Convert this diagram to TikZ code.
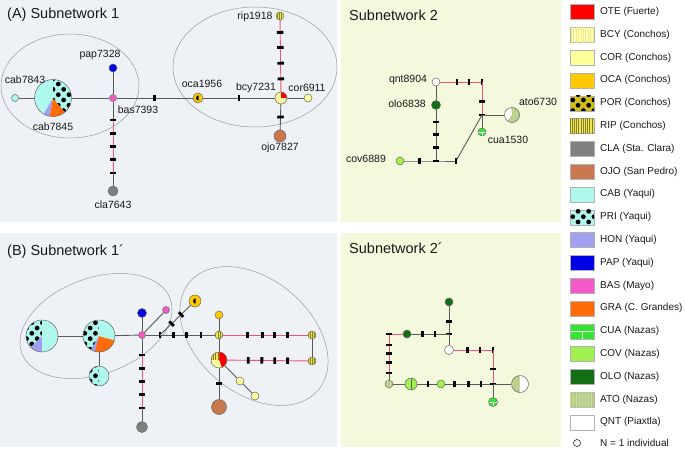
\documentclass[tikz,border=0pt]{standalone}
\usepackage{fontspec}
\setmainfont{Liberation Sans}
\usetikzlibrary{patterns,patterns.meta}
\pgfdeclarelayer{back}
\pgfdeclarelayer{links}
\pgfsetlayers{back,links,main}

\definecolor{otec}{HTML}{FF0000}
\definecolor{bcyc}{HTML}{FFFCC8}
\definecolor{corc}{HTML}{FFFF99}
\definecolor{ocac}{HTML}{FFC800}
\definecolor{porc}{HTML}{D2BE14}
\definecolor{ripc}{HTML}{F0E650}
\definecolor{clac}{HTML}{808080}
\definecolor{ojoc}{HTML}{C8784F}
\definecolor{cabc}{HTML}{AFF8EE}
\definecolor{honc}{HTML}{A0A0F0}
\definecolor{papc}{HTML}{0000E6}
\definecolor{basc}{HTML}{F55AC8}
\definecolor{grac}{HTML}{FF6A0A}
\definecolor{cuac}{HTML}{32E632}
\definecolor{covc}{HTML}{A0F050}
\definecolor{oloc}{HTML}{146E14}
\definecolor{atoc}{HTML}{B4CD82}
\definecolor{panelA}{HTML}{EEF2F7}
\definecolor{panelB}{HTML}{F4F8DC}
\definecolor{mutline}{HTML}{EE5577}

% one slice of a haplotype pie, used inside a path picture
\newcommand{\piepart}[3]{\path[#1] (path picture bounding box.center) -- ++(#2:30pt) arc[start angle=#2,end angle=#3,radius=30pt] -- cycle;}
\newcommand{\pordot}{\fill[black] (path picture bounding box.center) ++(0.6,2.6) arc[start angle=90,end angle=270,radius=2.6] -- cycle;}

\begin{document}
\begin{tikzpicture}[x=1pt, y=1pt,
		hap/.style={circle, draw=black!60, line width=.5pt, inner sep=0pt, minimum size=#1},
		hap/.default=8pt,
		swatch/.style={rectangle, draw=black!30, line width=.4pt, minimum width=24pt, minimum height=15pt, inner sep=0pt},
		tick/.style={fill=black, inner sep=0pt, minimum width=2.8pt, minimum height=6.5pt, sloped},
		link/.style={draw=black!65, line width=.9pt},
		mutlink/.style={draw=mutline, line width=.9pt},
		ring/.style={draw=black!40, line width=.5pt},
		lab/.style={font=\fontsize{10.5}{12}\selectfont, text=black!90, inner sep=0pt},
		ttl/.style={font=\fontsize{14.5}{17}\selectfont, text=black!90, anchor=west, inner sep=0pt},
		leg/.style={font=\fontsize{10}{12}\selectfont, text=black!90, anchor=west, inner sep=0pt},
		ote/.style={fill=otec},
		bcy/.style={fill=bcyc, postaction={pattern={Lines[angle=90,distance=2.4pt,line width=.5pt]}, pattern color=ripc!70!bcyc}},
		cor/.style={fill=corc},
		oca/.style={fill=ocac},
		por/.style={fill=porc, postaction={pattern={Dots[radius=2.4pt,distance=7.5pt,angle=45]}, pattern color=black}},
		rip/.style={fill=ripc, postaction={pattern={Lines[angle=90,distance=2.2pt,line width=.6pt]}, pattern color=black!45!ripc}},
		cla/.style={fill=clac},
		ojo/.style={fill=ojoc},
		cab/.style={fill=cabc},
		pri/.style={fill=cabc, postaction={pattern={Dots[radius=2.4pt,distance=7.5pt,angle=45]}, pattern color=black}},
		hon/.style={fill=honc},
		pap/.style={fill=papc},
		bas/.style={fill=basc},
		gra/.style={fill=grac},
		cua/.style={fill=cuac, path picture={\draw[white, line width=.8pt] (path picture bounding box.west) -- (path picture bounding box.east) (path picture bounding box.center) -- (path picture bounding box.south);}},
		cov/.style={fill=covc},
		olo/.style={fill=oloc},
		ato/.style={fill=atoc, postaction={pattern={Lines[angle=90,distance=3pt,line width=.5pt]}, pattern color=atoc!70!white}},
		qnt/.style={fill=white}
	]
	\useasboundingbox (0,0) rectangle (685,-450);

	\begin{pgfonlayer}{back}
		\fill[white] (0,0) rectangle (685,-450);
		\fill[panelA] (0,0) rectangle (337,-222);
		\fill[panelB] (341,0) rectangle (561,-222);
		\fill[panelA] (0,-233) rectangle (337,-447);
		\fill[panelB] (341,-233) rectangle (561,-447);
		\draw[ring] (70,-86) ellipse [x radius=69, y radius=52];
		\draw[ring] (255,-67) ellipse [x radius=82, y radius=60];
		\draw[ring, rotate around={20:(96,-326)}] (96,-326) ellipse [x radius=79, y radius=48];
		\draw[ring, rotate around={-40:(254,-336)}] (254,-336) ellipse [x radius=84, y radius=57];
	\end{pgfonlayer}

	% (A) Subnetwork 1
	\node[ttl] (titleA) at (7,-15) {(A) Subnetwork 1};
	\node[hap=7pt, cab] (cab7843) at (15,-98) {};
	\node[hap=37pt, path picture={\piepart{cab}{90}{240}\piepart{hon}{240}{260}\piepart{gra}{260}{310}\piepart{pri}{310}{450}}] (cab7845) at (53,-98) {};
	\node[hap=7pt, bas] (bas7393) at (113,-98) {};
	\node[hap=8pt, pap] (pap7328) at (113,-68) {};
	\node[hap=10pt, cla] (cla7643) at (113,-191) {};
	\node[hap=10pt, oca, path picture={\pordot}] (oca1956) at (198,-98) {};
	\node[hap=12pt, path picture={\piepart{cor}{90}{180}\piepart{ote}{0}{90}\piepart{bcy}{180}{360}}] (bcy7231) at (281,-98) {};
	\node[hap=8pt, cor] (cor6911) at (308,-98) {};
	\node[hap=8pt, rip] (rip1918) at (280,-16) {};
	\node[hap=12pt, ojo] (ojo7827) at (280,-136) {};
	\coordinate (t1) at (113,-120);
	\coordinate (t5) at (113,-173);

	\node[lab] (lcab7843) at (25,-80) {cab7843};
	\node[lab] (lcab7845) at (53,-127) {cab7845};
	\node[lab] (lpap7328) at (100,-55) {pap7328};
	\node[lab] (lbas7393) at (138,-110) {bas7393};
	\node[lab] (lcla7643) at (113,-205) {cla7643};
	\node[lab] (loca1956) at (202,-84) {oca1956};
	\node[lab] (lbcy7231) at (256,-88) {bcy7231};
	\node[lab] (lcor6911) at (307,-88) {cor6911};
	\node[lab] (lrip1918) at (255,-17) {rip1918};
	\node[lab] (lojo7827) at (280,-148) {ojo7827};

	% Subnetwork 2
	\node[ttl] (titleB) at (349,-15) {Subnetwork 2};
	\node[hap=8pt, qnt] (qnt8904) at (436,-82) {};
	\node[hap=9pt, olo] (olo6838) at (436,-105) {};
	\node[hap=8pt, cov] (cov6889) at (400,-161) {};
	\node[hap=8pt, cua] (cua1530) at (482,-132) {};
	\node[hap=15pt, path picture={\piepart{qnt}{95}{235}\piepart{ato}{235}{455}}] (ato6730) at (512,-115) {};
	\coordinate (c1) at (482,-82);
	\coordinate (j1) at (482,-115);
	\coordinate (c2) at (456,-161);
	\coordinate (j2) at (436,-161);

	\node[lab] (lqnt8904) at (408,-80) {qnt8904};
	\node[lab] (lolo6838) at (407,-104) {olo6838};
	\node[lab] (lato6730) at (538,-102) {ato6730};
	\node[lab] (lcua1530) at (508,-140) {cua1530};
	\node[lab] (lcov6889) at (366,-159) {cov6889};

	% (B) Subnetwork 1'
	\node[ttl] (titleC) at (7,-252) {(B) Subnetwork 1´};
	\node[hap=32pt, path picture={\piepart{pri}{90}{225}\piepart{hon}{225}{270}\piepart{cab}{270}{450}}] (hapA) at (42,-336) {};
	\node[hap=32pt, path picture={\piepart{pri}{90}{240}\piepart{hon}{240}{255}\piepart{gra}{255}{345}\piepart{cab}{345}{450}}] (hapB) at (99,-336) {};
	\node[hap=20pt, path picture={\piepart{pri}{90}{270}\piepart{cab}{270}{450}}] (hapC) at (99,-376) {};
	\node[hap=7pt, bas] (basj) at (142,-335) {};
	\node[hap=9pt, pap] (papb) at (142,-313) {};
	\node[hap=7pt, bas] (basb) at (166,-310) {};
	\node[hap=11pt, cla] (clab) at (142,-427) {};
	\node[hap=12pt, oca, path picture={\pordot}] (porb) at (195,-301) {};
	\node[hap=8pt, rip] (ripa) at (219,-335) {};
	\node[hap=8pt, oca] (ocab) at (219,-315) {};
	\node[hap=16pt, path picture={\piepart{ote}{-70}{90}\piepart{rip}{90}{180}\piepart{cor}{180}{290}}] (hapD) at (219,-360) {};
	\node[hap=8pt, rip] (ripb) at (312,-335) {};
	\node[hap=8pt, rip] (ripc) at (312,-361) {};
	\node[hap=15pt, ojo] (ojob) at (219,-407) {};
	\node[hap=8pt, cor] (cora) at (240,-381) {};
	\node[hap=8pt, cor] (corb) at (255,-396) {};
	\coordinate (u1) at (142,-355);
	\coordinate (u5) at (142,-408);
	\coordinate (h1) at (160,-335);

	% Subnetwork 2'
	\node[ttl] (titleD) at (349,-248) {Subnetwork 2´};
	\node[hap=8pt, olo] (oloa) at (449,-302) {};
	\node[hap=9pt, qnt] (qntb) at (449,-350) {};
	\node[hap=8pt, olo] (olob) at (407,-334) {};
	\node[hap=8pt, ato] (atoa) at (389,-384) {};
	\node[hap=12pt, path picture={\piepart{cov}{90}{270}\piepart{cov}{270}{450}\draw[black!60, line width=.5pt] (path picture bounding box.north) -- (path picture bounding box.south);}] (cova) at (411,-384) {};
	\node[hap=8pt, cov] (covb) at (441,-384) {};
	\node[hap=17pt, path picture={\piepart{ato}{90}{270}\piepart{qnt}{270}{450}}] (atob) at (520,-384) {};
	\node[hap=9pt, cua] (cuab) at (493,-402) {};
	\coordinate (k1) at (449,-334);
	\coordinate (k2) at (389,-334);
	\coordinate (k3) at (389,-373);
	\coordinate (k4) at (493,-384);
	\coordinate (k5) at (493,-350);

	% legend
	\foreach \sty/\lab [count=\i from 0] in {ote/OTE (Fuerte), bcy/BCY (Conchos), cor/COR (Conchos), oca/OCA (Conchos), por/POR (Conchos), rip/RIP (Conchos), cla/CLA (Sta. Clara), ojo/OJO (San Pedro), cab/CAB (Yaqui), pri/PRI (Yaqui), hon/HON (Yaqui), pap/PAP (Yaqui), bas/BAS (Mayo), gra/GRA (C. Grandes), cua/CUA (Nazas), cov/COV (Nazas), olo/OLO (Nazas), ato/ATO (Nazas), qnt/QNT (Piaxtla)} {
		\node[swatch, \sty] (sw\i) at (582,{-12-22.8*\i}) {};
		\node[leg] (lt\i) at (600,{-12-22.8*\i}) {\lab};
	}
	\node[hap=7pt, qnt, draw=black] (one) at (577,-443) {};
	\node[leg] (lone) at (600,-443) {N = 1 individual};

	\begin{pgfonlayer}{links}
		% subnetwork 1
		\draw[link] (cab7843) -- (cab7845);
		\draw[link] (cab7845) -- (bas7393);
		\draw[link] (pap7328) -- (bas7393);
		\draw[link] (bas7393) -- (t1);
		\draw[mutlink] (t1) -- node[tick,pos=0]{} node[tick,pos=.25]{} node[tick,pos=.5]{} node[tick,pos=.75]{} node[tick,pos=1]{} (t5);
		\draw[link] (t5) -- (cla7643);
		\draw[link] (bas7393) -- node[tick]{} (oca1956);
		\draw[link] (oca1956) -- node[tick]{} (bcy7231);
		\draw[link] (bcy7231) -- (cor6911);
		\draw[mutlink] (rip1918) -- node[tick,pos=.17]{} node[tick,pos=.38]{} node[tick,pos=.6]{} node[tick,pos=.82]{} (bcy7231);
		\draw[link] (bcy7231) -- node[tick]{} (ojo7827);

		% subnetwork 2
		\draw[link] (qnt8904) -- (olo6838);
		\draw[mutlink] (qnt8904) -- node[tick,pos=.4]{} node[tick,pos=.69]{} node[tick,pos=1]{} (c1);
		\draw[mutlink] (c1) -- node[tick,pos=.58]{} node[tick,pos=1]{} (j1);
		\draw[link] (j1) -- (ato6730);
		\draw[link] (j1) -- (cua1530);
		\draw[link] (j1) -- (c2);
		\draw[link] (cov6889) -- node[tick,pos=.47]{} (j2) -- node[tick,pos=1]{} (c2);
		\draw[link] (olo6838) -- node[tick,pos=.24]{} node[tick,pos=.48]{} node[tick,pos=.73]{} node[tick,pos=1]{} (j2);

		% subnetwork 1'
		\draw[link] (hapA) -- (hapB);
		\draw[link] (hapB) -- (hapC);
		\draw[link] (hapB) -- (basj);
		\draw[link] (basj) -- (papb);
		\draw[link] (basj) -- (basb);
		\draw[link] (basj) -- (u1);
		\draw[mutlink] (u1) -- node[tick,pos=0]{} node[tick,pos=.25]{} node[tick,pos=.5]{} node[tick,pos=.75]{} node[tick,pos=1]{} (u5);
		\draw[link] (u5) -- (clab);
		\draw[link] (basj) -- node[tick,pos=1]{} (h1);
		\draw[link] (h1) -- node[tick,pos=.25]{} node[tick,pos=.49]{} node[tick,pos=.75]{} (ripa);
		\draw[link] (h1) -- node[tick,pos=.38]{} node[tick,pos=.69]{} (porb);
		\draw[link] (ripa) -- (ocab);
		\draw[link] (ripa) -- (hapD);
		\draw[mutlink] (ripa) -- node[tick,pos=.29]{} node[tick,pos=.46]{} node[tick,pos=.61]{} node[tick,pos=.76]{} (ripb);
		\draw[link] (ripb) -- (ripc);
		\draw[mutlink] (ripc) -- node[tick,pos=.25]{} node[tick,pos=.41]{} node[tick,pos=.57]{} node[tick,pos=.74]{} (hapD);
		\draw[link] (hapD) -- node[tick]{} (ojob);
		\draw[link] (hapD) -- (cora) -- (corb);

		% subnetwork 2'
		\draw[link] (oloa) -- node[tick,pos=.55]{} node[tick,pos=1]{} (k1);
		\draw[link] (k1) -- (qntb);
		\draw[link] (k1) -- node[tick,pos=.37]{} node[tick,pos=.71]{} (olob);
		\draw[mutlink] (olob) -- (k2);
		\draw[mutlink] (k2) -- node[tick,pos=0]{} node[tick,pos=.28]{} node[tick,pos=.49]{} node[tick,pos=.74]{} node[tick,pos=1]{} (k3);
		\draw[link] (k3) -- (atoa);
		\draw[link] (atoa) -- (cova);
		\draw[link] (cova) -- node[tick,pos=.55]{} (covb);
		\draw[link] (covb) -- node[tick,pos=.19]{} node[tick,pos=.48]{} node[tick,pos=.75]{} (k4);
		\draw[mutlink] (qntb) -- node[tick,pos=.34]{} node[tick,pos=.67]{} node[tick,pos=1]{} (k5);
		\draw[mutlink] (k5) -- node[tick,pos=.56]{} node[tick,pos=1]{} (k4);
		\draw[link] (k4) -- (atob);
		\draw[link] (k4) -- (cuab);
	\end{pgfonlayer}
\end{tikzpicture}
\end{document}
